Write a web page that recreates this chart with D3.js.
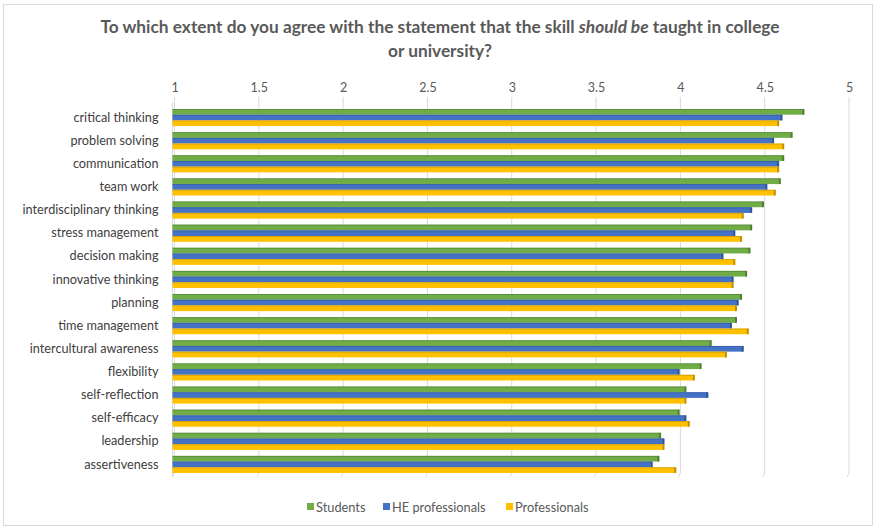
<!DOCTYPE html>
<html><head><meta charset="utf-8">
<script src="https://cdn.jsdelivr.net/npm/d3@7"></script>
<style>body{margin:0;background:#fff;}svg{display:block;font-family:Lato,"Open Sans",sans-serif;}</style>
</head><body>
<svg id="chart" width="876" height="529"></svg>
<script>
const categories = ["critical thinking","problem solving","communication","team work","interdisciplinary thinking","stress management","decision making","innovative thinking","planning","time management","intercultural awareness","flexibility","self-reflection","self-efficacy","leadership","assertiveness"];
const seriesNames = ["Students","HE professionals","Professionals"];
const students = [4.73,4.66,4.61,4.59,4.49,4.42,4.41,4.39,4.36,4.33,4.18,4.12,4.03,3.99,3.88,3.87];
const heProfessionals = [4.60,4.55,4.58,4.51,4.42,4.32,4.25,4.31,4.34,4.30,4.37,3.99,4.16,4.03,3.90,3.83];
const professionals = [4.58,4.61,4.58,4.56,4.37,4.36,4.32,4.31,4.33,4.40,4.27,4.08,4.03,4.05,3.90,3.97];
const tickValues = [1,1.5,2,2.5,3,3.5,4,4.5,5];
const colors = ["#70AD47","#4472C4","#FFC000"];
const darker = ["#507e33","#2f5597","#bf9000"];

const svg = d3.select("#chart");
svg.append("rect").attr("x",3.5).attr("y",4.5).attr("width",869).attr("height",521)
  .attr("fill","#fff").attr("stroke","#d9d9d9");

svg.append("text").attr("x",440).attr("y",33).attr("text-anchor","middle")
  .attr("font-size",17.3).attr("font-weight","bold").attr("fill","#595959")
  .call(t=>{t.append("tspan").text("To which extent do you agree with the statement that the skill ");
            t.append("tspan").attr("font-style","italic").text("should be");
            t.append("tspan").text(" taught in college");});
svg.append("text").attr("x",440).attr("y",57).attr("text-anchor","middle")
  .attr("font-size",17.3).attr("font-weight","bold").attr("fill","#595959").text("or university?");

const x = d3.scaleLinear().domain([1,5]).range([174.5,849]);
const y = d3.scaleBand().domain(categories).range([106,476]).paddingInner(0.26).paddingOuter(0.13);
const ys = d3.scaleBand().domain(seriesNames).range([0,y.bandwidth()]);

// gridlines
const grid = svg.append("g");
tickValues.forEach(v=>{
  grid.append("path").attr("d",`M${x(v)},97V473l-2,4`).attr("stroke","#d9d9d9").attr("fill","none");
});
svg.append("path").attr("d",`M${x(1)-2},102V477`).attr("stroke","#d9d9d9").attr("fill","none");

// top axis labels
const ax = d3.axisTop(x).tickValues(tickValues).tickFormat(d3.format("")).tickSize(0);
const axG = svg.append("g").attr("transform","translate(0,95)").call(ax);
axG.select(".domain").remove();
axG.selectAll("text").attr("font-size",12.5).attr("fill","#595959").attr("font-family","Lato,sans-serif");

const data = [students, heProfessionals, professionals];
const bars = svg.append("g");
categories.forEach((c,i)=>{
  data.forEach((arr,s)=>{
    const y0 = y(c)+ys(seriesNames[s]);
    const h = ys.bandwidth();
    const x0 = x(1)-2, x1 = x(arr[i]);
    bars.append("rect").attr("x",x0).attr("y",y0).attr("width",x1-x0).attr("height",h).attr("fill",colors[s]);
    bars.append("path").attr("d",`M${x0},${y0+0.5}H${x1}`).attr("stroke",darker[s]).attr("stroke-width",1).attr("opacity",0.6);
    bars.append("path").attr("d",`M${x1-1},${y0}h2v${h}h-2z`).attr("fill",darker[s]);
  });
});

// category labels
const yl = d3.axisLeft(y).tickSize(0);
const ylG = svg.append("g").attr("transform",`translate(${x(1)-13},0)`).call(yl);
ylG.select(".domain").remove();
ylG.selectAll("text").attr("font-size",12.7).attr("fill","#404040").attr("font-family","Lato,sans-serif");

// legend
const legX = [307,383,506];
const leg = svg.append("g");
seriesNames.forEach((n,s)=>{
  leg.append("rect").attr("x",legX[s]).attr("y",503).attr("width",7).attr("height",7).attr("fill",colors[s]);
  leg.append("text").attr("x",legX[s]+9).attr("y",511.5).attr("font-size",12.8).attr("fill","#595959").text(n);
});
</script>
</body></html>
